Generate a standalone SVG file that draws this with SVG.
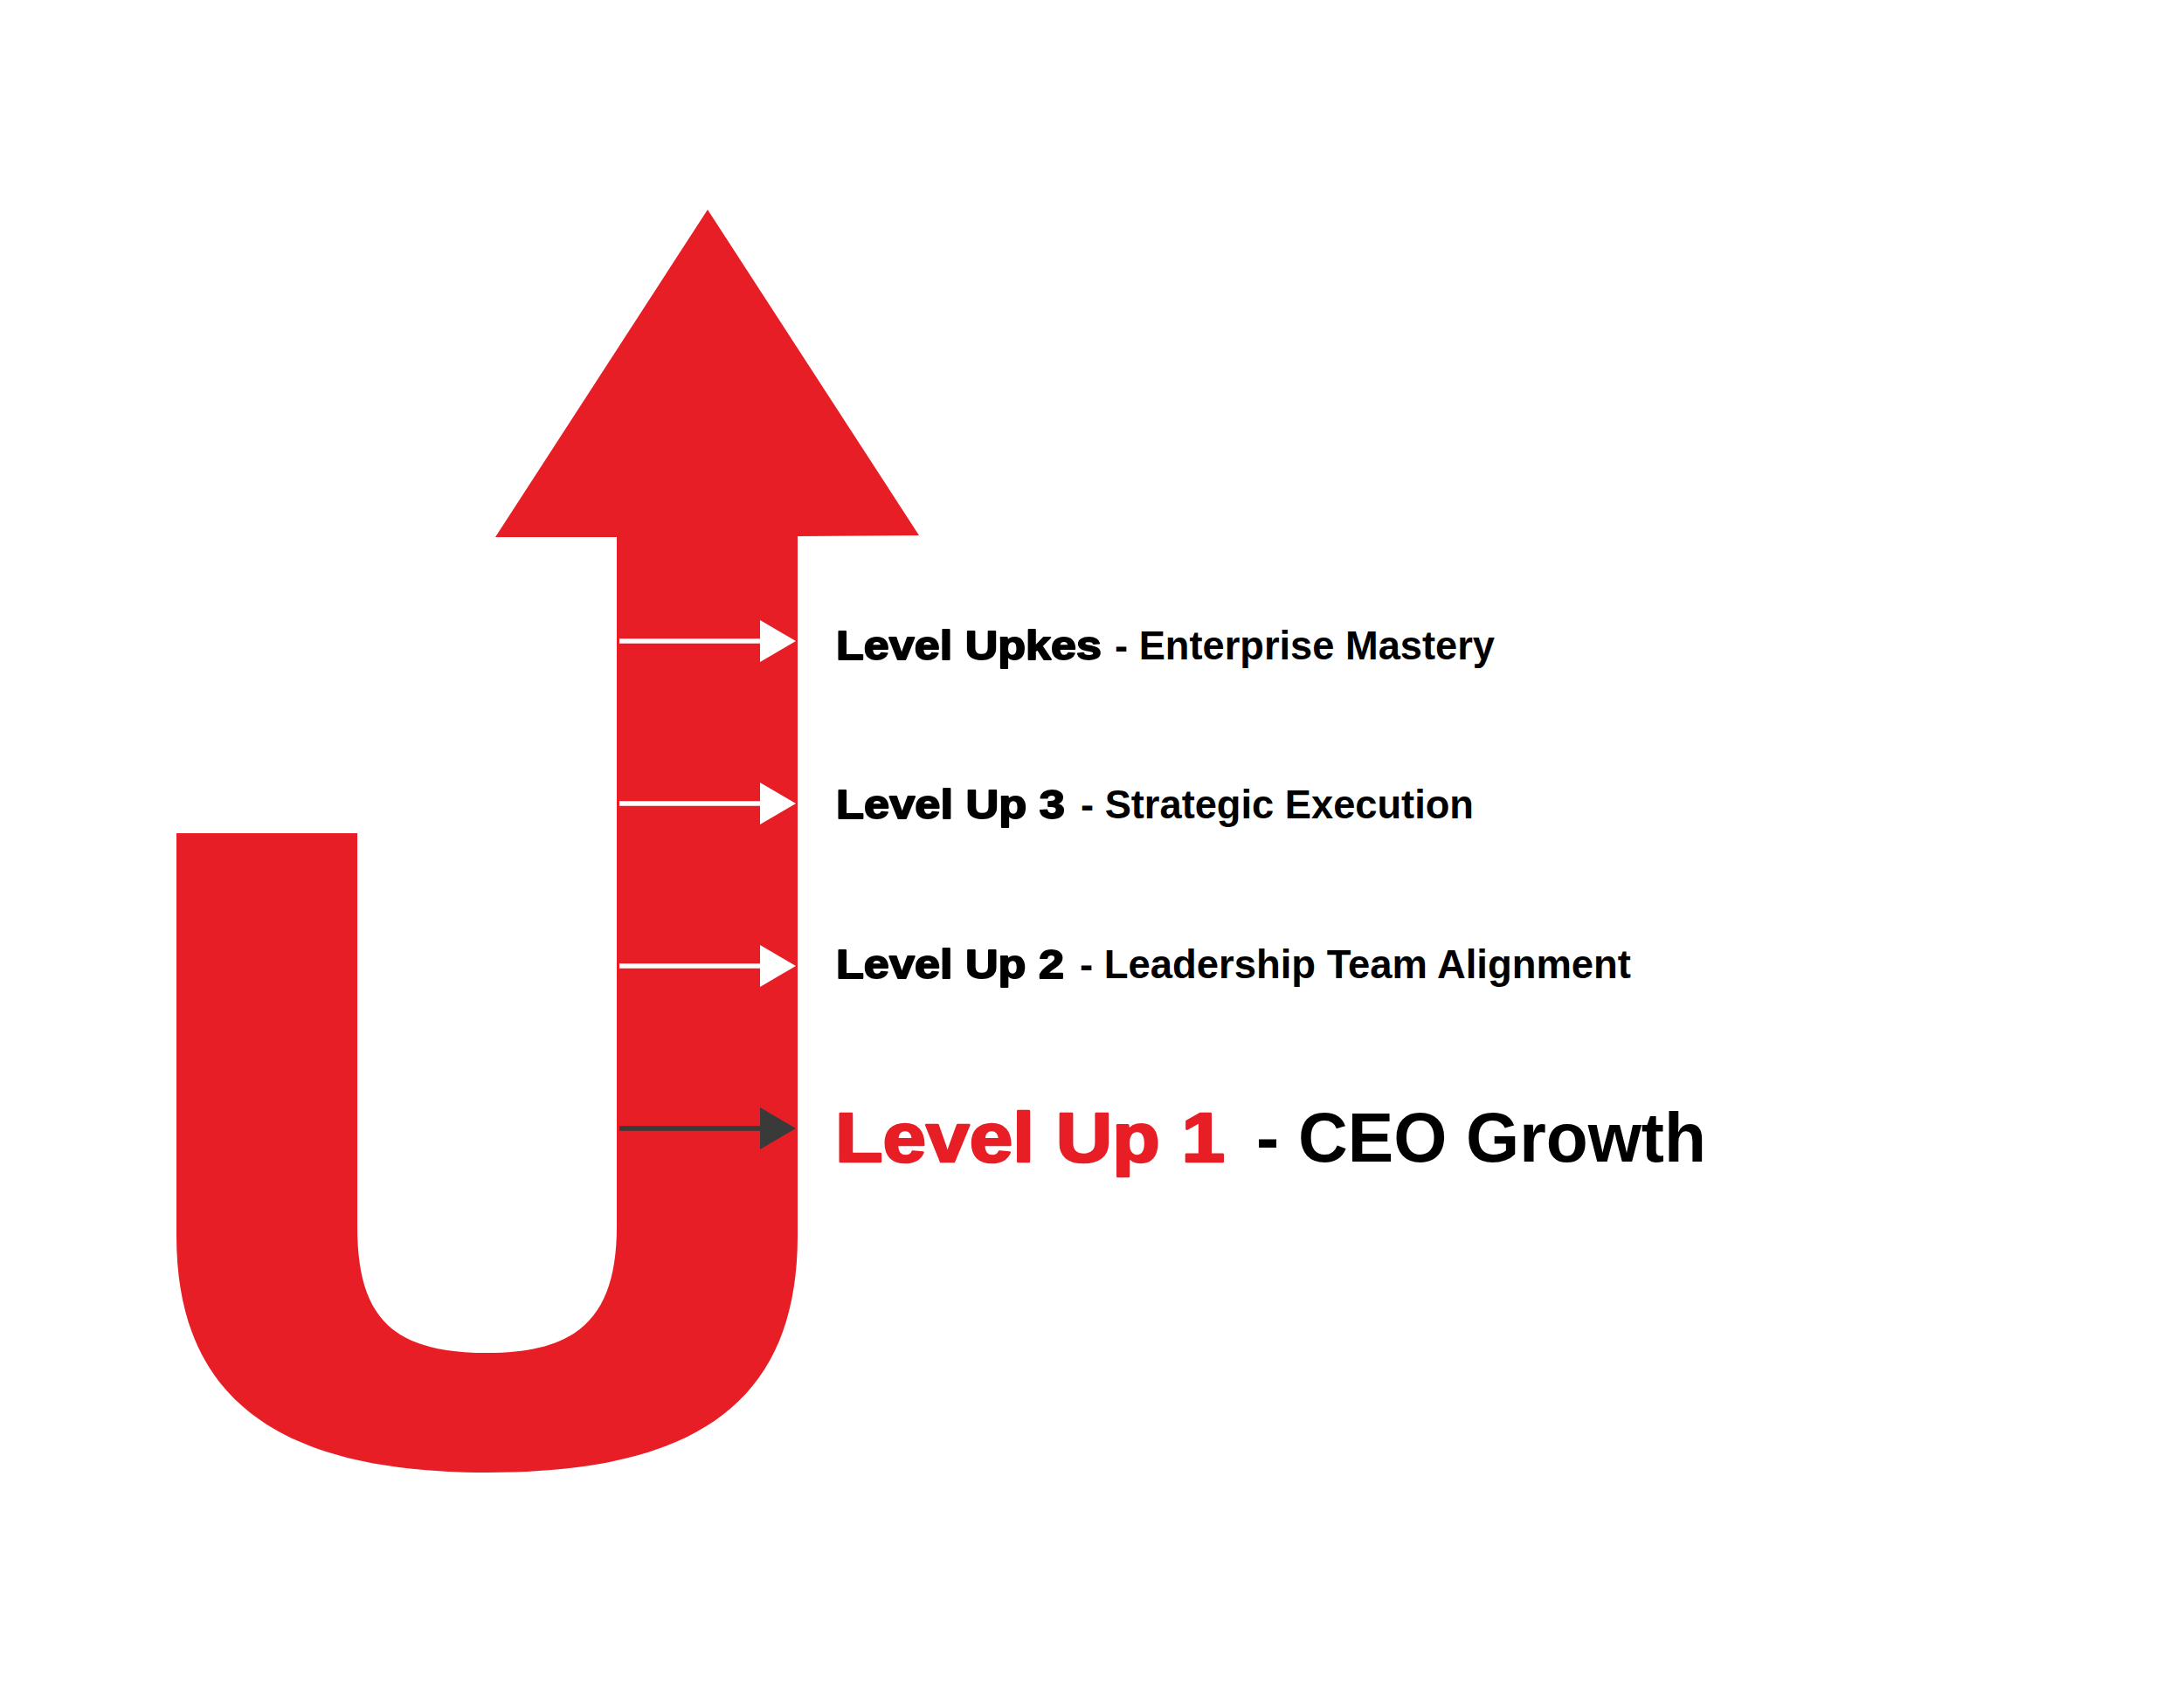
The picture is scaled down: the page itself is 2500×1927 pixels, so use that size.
<svg xmlns="http://www.w3.org/2000/svg" width="2500" height="1927" viewBox="0 0 2500 1927">
  <style>
    .red { fill: #e81e26; }
    .lbl { font-family: "Liberation Sans", Arial, sans-serif; font-weight: bold; }
    .sm { font-size: 46px; fill: #000; }
    .big { font-size: 80px; }
    .heavy { stroke: #000; stroke-width: 1.8; stroke-linejoin: round; }
    .heavybig { stroke: #e81e26; stroke-width: 2.6; stroke-linejoin: round; }
    .wl { stroke: #ffffff; stroke-width: 5.5; fill: none; }
    .wh { fill: #ffffff; }
    .dl { stroke: #3a3a3a; stroke-width: 5.5; fill: none; }
    .dh { fill: #3a3a3a; }
  </style>
  <rect x="0" y="0" width="2500" height="1927" fill="#ffffff"/>

  <g id="u-turn-arrow">
    <path class="red" d="M202,954 L202,1415 C202,1610 330,1686 558,1686 C790,1686 913,1610 913,1415 L913,614 L1052,613 L810,240 L567,615 L706,615 L706,1404 C706,1510 660,1549 558,1549 C450,1549 409,1510 409,1404 L409,954 Z"/>
  </g>

  <g id="connectors">
    <g id="arrow-upkes">
      <line class="wl" x1="709" y1="734" x2="872" y2="734"/>
      <polygon class="wh" points="870,710 911,734 870,758"/>
    </g>
    <g id="arrow-up3">
      <line class="wl" x1="709" y1="920" x2="872" y2="920"/>
      <polygon class="wh" points="870,896 911,920 870,944"/>
    </g>
    <g id="arrow-up2">
      <line class="wl" x1="709" y1="1106" x2="872" y2="1106"/>
      <polygon class="wh" points="870,1082 911,1106 870,1130"/>
    </g>
    <g id="arrow-up1">
      <line class="dl" x1="709" y1="1292" x2="872" y2="1292"/>
      <polygon class="dh" points="870,1268 911,1292 870,1316"/>
    </g>
  </g>

  <g id="node-level-upkes">
    <text class="lbl sm heavy" x="957" y="755" textLength="304" lengthAdjust="spacingAndGlyphs">Level Upkes</text>
    <text class="lbl sm" x="1276" y="755" textLength="435" lengthAdjust="spacingAndGlyphs">- Enterprise Mastery</text>
  </g>

  <g id="node-level-up-3">
    <text class="lbl sm heavy" x="957" y="937" textLength="262" lengthAdjust="spacingAndGlyphs">Level Up 3</text>
    <text class="lbl sm" x="1237" y="937" textLength="450" lengthAdjust="spacingAndGlyphs">- Strategic Execution</text>
  </g>

  <g id="node-level-up-2">
    <text class="lbl sm heavy" x="957" y="1120" textLength="261" lengthAdjust="spacingAndGlyphs">Level Up 2</text>
    <text class="lbl sm" x="1236" y="1120" textLength="631" lengthAdjust="spacingAndGlyphs">- Leadership Team Alignment</text>
  </g>

  <g id="node-level-up-1">
    <text class="lbl big heavybig" x="956" y="1330" fill="#e81e26" textLength="446" lengthAdjust="spacingAndGlyphs">Level Up 1</text>
    <text class="lbl big" x="1438" y="1330" fill="#000000" textLength="515" lengthAdjust="spacingAndGlyphs">- CEO Growth</text>
  </g>
</svg>
